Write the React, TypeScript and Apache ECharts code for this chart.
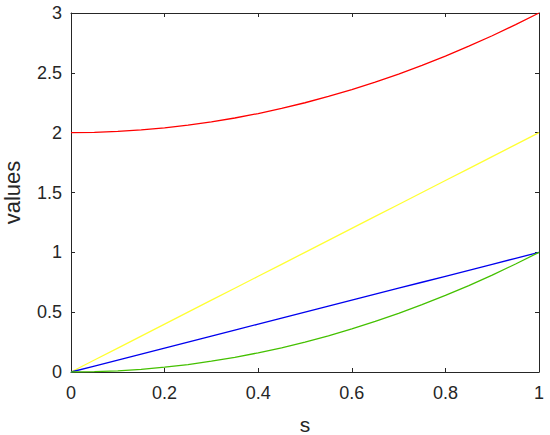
import React, { useEffect, useRef } from "react";
import * as echarts from "echarts";

const sValues = [0, 0.05, 0.1, 0.15, 0.2, 0.25, 0.3, 0.35, 0.4, 0.45, 0.5, 0.55, 0.6, 0.65, 0.7, 0.75, 0.8, 0.85, 0.9, 0.95, 1];
const redValues = [2, 2.0025, 2.01, 2.0225, 2.04, 2.0625, 2.09, 2.1225, 2.16, 2.2025, 2.25, 2.3025, 2.36, 2.4225, 2.49, 2.5625, 2.64, 2.7225, 2.81, 2.9025, 3];
const yellowValues = [0, 0.1, 0.2, 0.3, 0.4, 0.5, 0.6, 0.7, 0.8, 0.9, 1, 1.1, 1.2, 1.3, 1.4, 1.5, 1.6, 1.7, 1.8, 1.9, 2];
const blueValues = [0, 0.05, 0.1, 0.15, 0.2, 0.25, 0.3, 0.35, 0.4, 0.45, 0.5, 0.55, 0.6, 0.65, 0.7, 0.75, 0.8, 0.85, 0.9, 0.95, 1];
const greenValues = [0, 0.0025, 0.01, 0.0225, 0.04, 0.0625, 0.09, 0.1225, 0.16, 0.2025, 0.25, 0.3025, 0.36, 0.4225, 0.49, 0.5625, 0.64, 0.7225, 0.81, 0.9025, 1];

const FONT = "Liberation Sans, Arial, sans-serif";

function pairs(ys: number[]) {
  return sValues.map((s, i) => [s, ys[i]]);
}

export default function App() {
  const ref = useRef<HTMLDivElement>(null);
  useEffect(() => {
    const chart = echarts.init(ref.current!, null, { renderer: "svg" });
    const lineStyle = { color: "#262626", width: 1 };
    const tick = { show: true, inside: true, length: 4, lineStyle };
    const mk = (color: string, ys: number[]) => ({
      type: "line",
      data: pairs(ys),
      showSymbol: false,
      symbol: "none",
      lineStyle: { color, width: 1.3 },
      itemStyle: { color },
      xAxisIndex: 0,
      yAxisIndex: 0,
    });
    chart.setOption({
      animation: false,
      backgroundColor: "#ffffff",
      grid: {
        left: 71,
        right: 11,
        top: 13,
        bottom: 63,
        containLabel: false,
        outerBoundsMode: "none",
      },
      xAxis: [
        {
          type: "value",
          min: 0,
          max: 1,
          interval: 0.2,
          position: "bottom",
          name: "s",
          nameLocation: "middle",
          nameGap: 42,
          nameTextStyle: { fontFamily: FONT, fontSize: 21, color: "#262626" },
          axisLine: { show: true, onZero: false, lineStyle },
          axisTick: tick,
          axisLabel: { fontFamily: FONT, fontSize: 18, color: "#262626", margin: 12 },
          splitLine: { show: false },
        },
        {
          type: "value",
          min: 0,
          max: 1,
          interval: 0.2,
          position: "top",
          axisLine: { show: true, onZero: false, lineStyle },
          axisTick: tick,
          axisLabel: { show: false },
          splitLine: { show: false },
        },
      ],
      yAxis: [
        {
          type: "value",
          min: 0,
          max: 3,
          interval: 0.5,
          position: "left",
          name: "values",
          nameLocation: "middle",
          nameGap: 48,
          nameRotate: 90,
          nameTextStyle: { fontFamily: FONT, fontSize: 22, color: "#262626" },
          axisLine: { show: true, onZero: false, lineStyle },
          axisTick: tick,
          axisLabel: { fontFamily: FONT, fontSize: 18, color: "#262626", margin: 9 },
          splitLine: { show: false },
        },
        {
          type: "value",
          min: 0,
          max: 3,
          interval: 0.5,
          position: "right",
          axisLine: { show: true, onZero: false, lineStyle },
          axisTick: tick,
          axisLabel: { show: false },
          splitLine: { show: false },
        },
      ],
      series: [
        mk("#ff0000", redValues),
        mk("#ffff33", yellowValues),
        mk("#0000ee", blueValues),
        mk("#44c000", greenValues),
      ],
    });
    return () => chart.dispose();
  }, []);
  return (
    <div
      ref={ref}
      style={{ position: "fixed", left: 0, top: 0, width: 550, height: 435 }}
    />
  );
}
